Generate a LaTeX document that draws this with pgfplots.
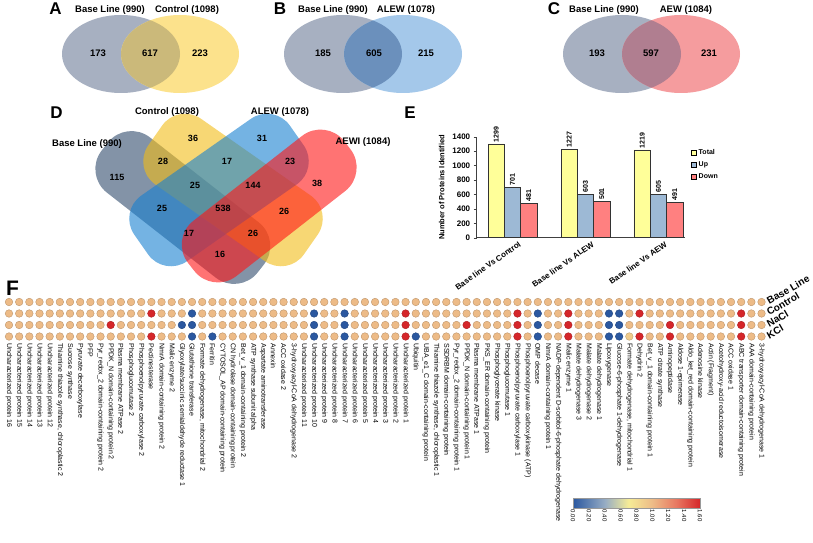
\documentclass[border=0pt]{standalone}
\usepackage{fontspec}
\setmainfont{Liberation Sans}
\usepackage{pgfplots}
\pgfplotsset{compat=1.18}
\usepackage{pgfplotstable}
\pgfplotsset{/pgf/number format/assume math mode=true}

\definecolor{vgrey}{HTML}{A7B0C1}
\definecolor{vyel}{HTML}{FCE28C}
\definecolor{vyelov}{HTML}{CBB97A}
\definecolor{vblue}{HTML}{A4C8EA}
\definecolor{vblueov}{HTML}{6B90BC}
\definecolor{vred}{HTML}{F59C9E}
\definecolor{vredov}{HTML}{B07E90}
\definecolor{dbase}{HTML}{304B6C}
\definecolor{dctrl}{HTML}{F2BC17}
\definecolor{dalew}{HTML}{1780D0}
\definecolor{daewi}{HTML}{FF1515}
\definecolor{btot}{HTML}{FFFF99}
\definecolor{bup}{HTML}{9DB9D5}
\definecolor{bdown}{HTML}{FF8080}

\pgfplotstableread{
g tot up down
1 1299 701 481
2 1227 603 501
3 1219 605 491
}\bars

\pgfplotstableread{
c bl ct na kc
1 1 1 1 1
2 1 1 1 1
3 1 1 1 1
4 1 1 1 1
5 1 1 1 1
6 1 1 1 1
7 1 1 1 1
8 1 1 1 1
9 1 1 1 1
10 1 1 1 1
11 1 1 1.6 1
12 1 1 1 1
13 1 1 1 1
14 1 1 1 1
15 1 1.6 1 1.6
16 1 1 1 1
17 1 1 1 1
18 1 1 0 1
19 1 0 0 0
20 1 1 1 1
21 1 1 1 0
22 1 1 1 1
23 1 1 1 1
24 1 1 1 1
25 1 1 1 1
26 1 1 1 1
27 1 1 1 1
28 1 1 1 1
29 1 1 1 1
30 1 1 1 1
31 1 0 0 0
32 1 1 1 1
33 1 1 1 1
34 1 0 0 0
35 1 1 1 1
36 1 1 1 1
37 1 1 1 1
38 1 1 1 1
39 1 1 1 1
40 1 1.6 1.6 1.6
41 1 1 1 0
42 1 1 1 1
43 1 1 1 1
44 1 1 1 1
45 1 1 1 1
46 1 1 1.6 1
47 1 1 1 1
48 1 1 1 1
49 1 1 1 1
50 1 1 1 1
51 1 1.6 1.6 1.6
52 1 1 1 1
53 1 0 0 0
54 1 1 1 1
55 1 1 1 1
56 1 1.6 1.6 1.6
57 1 1 1 1
58 1 1 1 1
59 1 1 1 1
60 1 0 0 0
61 1 0 0 0
62 1 1 1 0.9
63 1 1.6 1 1.6
64 1 1 1 1
65 1 1 1 1
66 1 1 1.6 1.6
67 1 1 1 1
68 1 1 1 1
69 1 1 1 1
70 1 1 1 1
71 1 1 1 1
72 1 1 1 1
73 1 1.6 1.6 1.6
74 1 1 1 1
75 1 1 1 1
}\heat

\begin{document}
\begin{tikzpicture}
%%% Background axis in pixel coordinates: Venn diagrams A-D, panel letters
\begin{axis}[at={(0pt,0pt)}, anchor=south west, scale only axis,
  width=813pt, height=542pt, xmin=0, xmax=813, ymin=0, ymax=542,
  hide axis, clip=false]
  % ---- A
  \fill[vgrey] (axis cs:121,488) ellipse [x radius=59, y radius=39];
  \fill[vyel] (axis cs:180,488) ellipse [x radius=59, y radius=39];
  \begin{scope}
    \clip (axis cs:121,488) ellipse [x radius=59, y radius=39];
    \fill[vyelov] (axis cs:180,488) ellipse [x radius=59, y radius=39];
  \end{scope}
  % ---- B
  \fill[vgrey] (axis cs:343,488) ellipse [x radius=59, y radius=39];
  \fill[vblue] (axis cs:403,488) ellipse [x radius=59, y radius=39];
  \begin{scope}
    \clip (axis cs:343,488) ellipse [x radius=59, y radius=39];
    \fill[vblueov] (axis cs:403,488) ellipse [x radius=59, y radius=39];
  \end{scope}
  % ---- C
  \fill[vgrey] (axis cs:622,488) ellipse [x radius=59, y radius=39];
  \fill[vred] (axis cs:681,488) ellipse [x radius=59, y radius=39];
  \begin{scope}
    \clip (axis cs:622,488) ellipse [x radius=59, y radius=39];
    \fill[vredov] (axis cs:681,488) ellipse [x radius=59, y radius=39];
  \end{scope}
  % ---- D
  \fill[dbase, fill opacity=0.6, rounded corners=30pt, rotate around={-38:(axis cs:182.8,334.5)}] (axis cs:83.8,299.5) rectangle (axis cs:281.8,369.5);
  \fill[dctrl, fill opacity=0.6, rounded corners=28pt, rotate around={-35:(axis cs:233,352)}] (axis cs:138,312) rectangle (axis cs:328,392);
  \fill[dalew, fill opacity=0.6, rounded corners=28pt, rotate around={35:(axis cs:219,352)}] (axis cs:124,312) rectangle (axis cs:314,392);
  \fill[daewi, fill opacity=0.6, rounded corners=30pt, rotate around={38:(axis cs:269.2,336)}] (axis cs:170.2,301) rectangle (axis cs:368.2,371);

  % Venn texts
  \begin{scope}[every node/.style={font=\bfseries\fontsize{9.5}{11}\selectfont, inner sep=0pt}]
    \node at (axis cs:110,532) {Base Line (990)};
    \node at (axis cs:187,532) {Control (1098)};
    \node at (axis cs:98,489) {173};
    \node at (axis cs:150,489) {617};
    \node at (axis cs:200,489) {223};
    \node at (axis cs:333,532) {Base Line (990)};
    \node at (axis cs:406,532) {ALEW (1078)};
    \node at (axis cs:323,489) {185};
    \node at (axis cs:374,489) {605};
    \node at (axis cs:426,489) {215};
    \node at (axis cs:604,532) {Base Line (990)};
    \node at (axis cs:686,532) {AEW (1084)};
    \node at (axis cs:597,489) {193};
    \node at (axis cs:651,489) {597};
    \node at (axis cs:709,489) {231};
    \node at (axis cs:87,398) {Base Line (990)};
    \node at (axis cs:167,430) {Control (1098)};
    \node at (axis cs:280,430) {ALEW (1078)};
    \node at (axis cs:363,400) {AEWI (1084)};
  \end{scope}
  \begin{scope}[every node/.style={font=\bfseries\fontsize{9}{10}\selectfont, inner sep=0pt}]
    \node at (axis cs:193,404) {36};
    \node at (axis cs:262,404) {31};
    \node at (axis cs:163,381) {28};
    \node at (axis cs:227,381) {17};
    \node at (axis cs:290,381) {23};
    \node at (axis cs:117,365) {115};
    \node at (axis cs:195,357) {25};
    \node at (axis cs:253,357) {144};
    \node at (axis cs:317,359) {38};
    \node at (axis cs:162,334) {25};
    \node at (axis cs:223,334) {538};
    \node at (axis cs:284,331) {26};
    \node at (axis cs:189,309) {17};
    \node at (axis cs:253,309) {26};
    \node at (axis cs:220,288) {16};
  \end{scope}
  % panel letters
  \begin{scope}[every node/.style={font=\bfseries\fontsize{17}{18}\selectfont, inner sep=0pt}]
    \node at (axis cs:55.5,533) {A};
    \node at (axis cs:280,533) {B};
    \node at (axis cs:554,533) {C};
    \node at (axis cs:56.5,429.5) {D};
    \node at (axis cs:410,429.5) {E};
  \end{scope}
  \node[font=\bfseries\fontsize{21}{22}\selectfont, inner sep=0pt] at (axis cs:12.5,253.5) {F};
\end{axis}

%%% Panel E: bar chart
\begin{axis}[at={(476.7pt,304.3pt)}, anchor=south west, scale only axis,
  width=208pt, height=101pt, xmin=0.51, xmax=3.36, ymin=0, ymax=1400,
  ybar=0pt, bar width=16.3pt,
  axis lines*=left, axis line style={draw=black!75, line width=0.5pt},
  ytick={0,200,...,1400}, xtick={1,2,3},
  xticklabels={Base line Vs Control, Base line Vs ALEW, Base line Vs AEW},
  xticklabel style={rotate=35, anchor=north east, xshift=8pt, font=\bfseries\fontsize{8}{9}\selectfont},
  xtick style={draw=none}, tick align=outside, major tick length=3pt,
  ytick style={draw=black!75},
  yticklabel style={font=\bfseries\fontsize{8}{9}\selectfont},
  /pgf/number format/1000 sep={},
  ylabel={Number of Proteins Identified},
  ylabel style={font=\bfseries\fontsize{7.5}{9}\selectfont, at={(axis description cs:-0.168,0.5)}, anchor=center},
  nodes near coords,
  nodes near coords style={rotate=90, anchor=west, inner sep=1.5pt, font=\bfseries\fontsize{7}{8}\selectfont},
  legend style={draw=none, fill=none, at={(1.016,0.918)}, anchor=north west,
    font=\bfseries\fontsize{7}{8}\selectfont, row sep=2pt, cells={anchor=west}},
  clip=false]
  \addplot[fill=btot, draw=black!80, line width=0.5pt,
    legend image code/.code={\draw[fill=btot, draw=black] (0pt,-2.5pt) rectangle (5pt,2.5pt);}]
    table[x=g, y=tot]{\bars};
  \addplot[fill=bup, draw=black!80, line width=0.5pt,
    legend image code/.code={\draw[fill=bup, draw=black] (0pt,-2.5pt) rectangle (5pt,2.5pt);}]
    table[x=g, y=up]{\bars};
  \addplot[fill=bdown, draw=black!80, line width=0.5pt,
    legend image code/.code={\draw[fill=bdown, draw=black] (0pt,-2.5pt) rectangle (5pt,2.5pt);}]
    table[x=g, y=down]{\bars};
  \legend{Total, Up, Down}
\end{axis}

%%% Panel F: heatmap of dots
\begin{axis}[at={(3.915pt,199.75pt)}, anchor=south west, scale only axis,
  width=762.7pt, height=46pt, xmin=0.5, xmax=75.5, ymin=0.5, ymax=4.5,
  axis line style={draw=none}, tick style={draw=none},
  xtick={1,...,75},
  xticklabels={Uncharacterized protein 16, Uncharacterized protein 15, Uncharacterized protein 14, Uncharacterized protein 13, Uncharacterized protein 12, {Thiamine thiazole synthase, chloroplastic 2}, Sucrose synthase, Pyruvate decarboxylase, PFP, Pyr\_redox\_2 domain-containing protein 2, PPDK\_N domain-containing protein 2, Plasma membrane ATPase 2, Phosphoglucomutase 2, Phosphoenolpyruvate carboxylase 2, Pectinesterase, NmrA domain-containing protein 2, Malic enzyme 2, Glyoxylate/succinic semialdehyde reductase 1, Glutathione transferase, {Formate dehydrogenase, mitochondrial 2}, Ferritin, CYTOSOL\_AP domain-containing protein, CN hydrolase domain-containing protein, Bet\_v\_1 domain-containing protein 2, ATP synthase subunit alpha, Aspartate aminotransferase, Annexin, ACC oxidase 2, 3-hydroxyacyl-CoA dehydrogenase 2, Uncharacterized protein 11, Uncharacterized protein 10, Uncharacterized protein 9, Uncharacterized protein 8, Uncharacterized protein 7, Uncharacterized protein 6, Uncharacterized protein 5, Uncharacterized protein 4, Uncharacterized protein 3, Uncharacterized protein 2, Uncharacterized protein 1, Ubiquitin, UBA\_e1\_C domain-containing protein, {Thiamine thiazole synthase, chloroplastic 1}, SSDRBM domain-containing protein, Pyr\_redox\_2 domain-containing protein 1, PPDK\_N domain-containing protein 1, Plasma membrane ATPase 1, PKS\_ER domain-containing protein, Phosphoglycerate kinase, Phosphoglucomutase 1, Phosphoenolpyruvate carboxylase 1, Phosphoenolpyruvate carboxykinase (ATP), OMP decase, NmrA domain-containing protein 1, NADP-dependent D-sorbitol-6-phosphate dehydrogenase, Malic enzyme 1, Malate dehydrogenase 3, Malate dehydrogenase 2, Malate dehydrogenase 1, Lipoxygenase, Glucose-6-phosphate 1-dehydrogenase, {Formate dehydrogenase, mitochondrial 1}, Dehydrin 2, Bet\_v\_1 domain-containing protein 1, ATP citrate synthase, Aminopeptidase, Aldose 1-epimerase, Aldo\_ket\_red domain-containing protein, Adenosine kinase, Actin (Fragment), Acetohydroxy-acid reductoisomerase, ACC oxidase 1, ABC transporter domain-containing protein, AAA domain-containing protein, 3-hydroxyacyl-CoA dehydrogenase 1},
  xticklabel style={rotate=-90, anchor=west, inner sep=1pt, font=\fontsize{7}{8}\selectfont},
  ytick={1,2,3,4}, yticklabels={KCl, NaCl, Control, Base Line},
  yticklabel pos=right,
  yticklabel style={rotate=30, anchor=west, inner sep=1pt, font=\bfseries\fontsize{10}{11}\selectfont},
  colormap={hm}{rgb255(0cm)=(43,88,160); rgb255(4cm)=(150,172,196); rgb255(7cm)=(246,236,150); rgb255(10cm)=(237,187,135); rgb255(13cm)=(232,120,98); rgb255(16cm)=(213,38,42)},
  point meta min=0, point meta max=1.6,
  colorbar horizontal,
  colorbar style={at={(parent axis.south west)}, anchor=north west,
    xshift=569.1pt, yshift=-147.75pt, width=127pt, height=10pt,
    xtick={0,0.2,0.4,0.6,0.8,1.0,1.2,1.4,1.6},
    xticklabels={0.00,0.20,0.40,0.60,0.80,1.00,1.20,1.40,1.60},
    xticklabel style={rotate=-90, anchor=west, inner sep=1pt, font=\fontsize{6}{7}\selectfont},
    xtick style={draw=none}, axis line style={draw=black!40}},
  clip=false]
  \addplot[scatter, only marks, mark=*, mark size=3.8pt, scatter src=explicit]
    table[x=c, y expr=4, meta=bl]{\heat};
  \addplot[scatter, only marks, mark=*, mark size=3.8pt, scatter src=explicit]
    table[x=c, y expr=3, meta=ct]{\heat};
  \addplot[scatter, only marks, mark=*, mark size=3.8pt, scatter src=explicit]
    table[x=c, y expr=2, meta=na]{\heat};
  \addplot[scatter, only marks, mark=*, mark size=3.8pt, scatter src=explicit]
    table[x=c, y expr=1, meta=kc]{\heat};
\end{axis}

\pgfresetboundingbox
\path[use as bounding box] (0pt,0pt) rectangle (813pt,542pt);
\end{tikzpicture}
\end{document}
